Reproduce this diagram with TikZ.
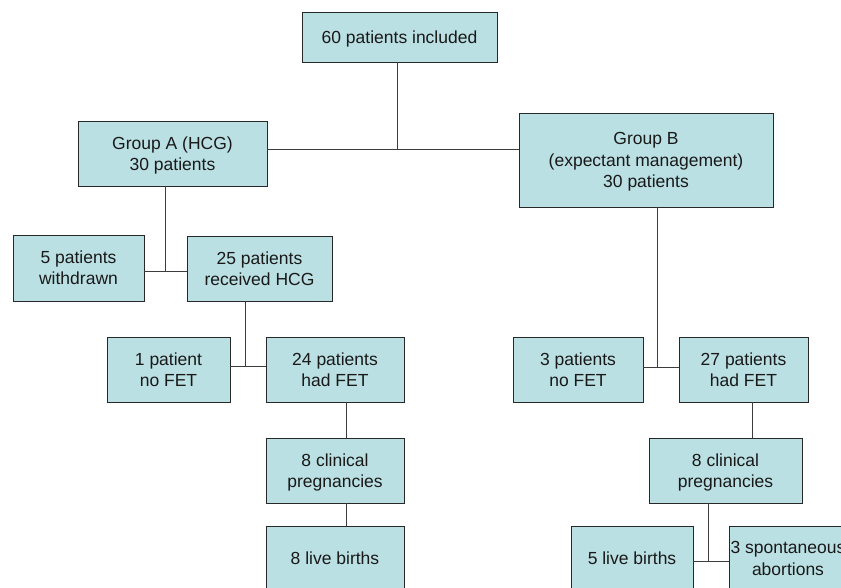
\documentclass[tikz,border=0pt]{standalone}
\usepackage{fontspec}
\setmainfont{Liberation Sans}
\definecolor{boxfill}{RGB}{187,224,227}
\definecolor{edge}{RGB}{40,40,40}
\definecolor{wire}{RGB}{60,60,60}
\begin{document}
\begin{tikzpicture}[x=1pt,y=-1pt,
  box/.style={draw=edge, fill=boxfill, line width=0.9pt, align=center, inner sep=0pt,
    text depth=0pt, font=\fontsize{17.5}{21.3}\selectfont, text=black!90},
  wirestyle/.style={draw=wire, line width=0.9pt}]
\useasboundingbox (0,0) rectangle (841,587);
\clip (0,0) rectangle (841,587);
\fill[white] (0,0) rectangle (841,587);
% nodes
\node[box, minimum width=195pt, minimum height=50pt] (top) at (399.5,37) {60 patients included};
\node[box, minimum width=189pt, minimum height=65pt] (gA) at (172.5,153.5) {Group A (HCG)\\30 patients};
\node[box, minimum width=254pt, minimum height=94pt] (gB) at (646,160) {Group B\\(expectant management)\\30 patients};
\node[box, minimum width=131pt, minimum height=66pt] (wd) at (78.5,268) {5 patients\\withdrawn};
\node[box, minimum width=145pt, minimum height=65pt] (rc) at (259.5,268.5) {25 patients\\received HCG};
\node[box, minimum width=123pt, minimum height=65pt] (nfA) at (168.5,369.5) {1 patient\\no FET};
\node[box, minimum width=138pt, minimum height=65pt] (hfA) at (335,369.5) {24 patients\\had FET};
\node[box, minimum width=138pt, minimum height=65pt] (cpA) at (335,470.5) {8 clinical\\pregnancies};
\node[box, minimum width=138pt, minimum height=65pt] (lbA) at (335,558.5) {8 live births};
\node[box, minimum width=130pt, minimum height=65pt] (nfB) at (578,369.5) {3 patients\\no FET};
\node[box, minimum width=129pt, minimum height=65pt] (hfB) at (743.5,369.5) {27 patients\\had FET};
\node[box, minimum width=153pt, minimum height=65pt] (cpB) at (725.5,470.5) {8 clinical\\pregnancies};
\node[box, minimum width=122pt, minimum height=65pt] (lbB) at (632,558.5) {5 live births};
\node[box, minimum width=118pt, minimum height=65pt] (sa) at (788,558.5) {3 spontaneous\\abortions};
% junctions
\coordinate (j1) at (397,149);
\coordinate (j2) at (165,271);
\coordinate (j3) at (245,366);
\coordinate (j4) at (346,420);
\coordinate (j5) at (657,367);
\coordinate (j6) at (752,420);
\coordinate (j7) at (708,561);
% connectors
\draw[wirestyle] (top.south -| j1) -- (j1);
\draw[wirestyle] (gA.east |- j1) -- (gB.west |- j1);
\draw[wirestyle] (gA.south -| j2) -- (j2);
\draw[wirestyle] (wd.east |- j2) -- (rc.west |- j2);
\draw[wirestyle] (rc.south -| j3) -- (j3);
\draw[wirestyle] (nfA.east |- j3) -- (hfA.west |- j3);
\draw[wirestyle] (hfA.south -| j4) -- (cpA.north -| j4);
\draw[wirestyle] (cpA.south -| j4) -- (lbA.north -| j4);
\draw[wirestyle] (gB.south -| j5) -- (j5);
\draw[wirestyle] (nfB.east |- j5) -- (hfB.west |- j5);
\draw[wirestyle] (hfB.south -| j6) -- (cpB.north -| j6);
\draw[wirestyle] (cpB.south -| j7) -- (j7);
\draw[wirestyle] (lbB.east |- j7) -- (sa.west |- j7);
\end{tikzpicture}
\end{document}
